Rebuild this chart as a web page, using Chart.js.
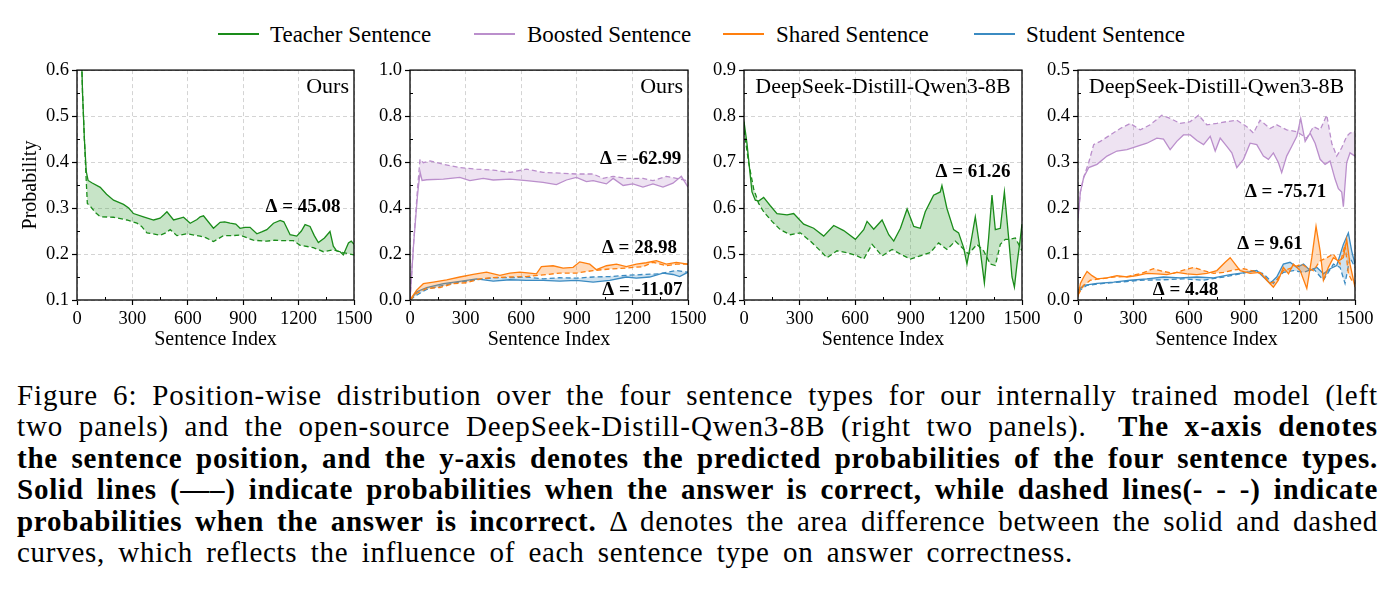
<!DOCTYPE html>
<html>
<head>
<meta charset="utf-8">
<script src="https://cdn.jsdelivr.net/npm/chart.js@4.4.1/dist/chart.umd.min.js"></script>
<style>
  body { margin: 0; background: #fff; width: 1398px; height: 593px; overflow: hidden; position: relative; font-family: "Liberation Serif", serif; }
  canvas { position: absolute; top: 56px; }
  .legLine { position: absolute; top: 33px; width: 41px; height: 2px; }
  .legText { position: absolute; top: 21px; font-size: 23px; line-height: 28px; white-space: nowrap; }
  #caption { position: absolute; left: 17px; top: 380px; width: 1362px; font-size: 29px; line-height: 31.4px; color: #000; }
  #caption div { white-space: nowrap; }
  #caption span.ln { display: inline-block; }
  b { font-weight: bold; }
</style>
</head>
<body>

<div class="legLine" style="left:218px;background:#1a8c1a"></div><div class="legText" style="left:270px">Teacher Sentence</div>
<div class="legLine" style="left:474px;background:#bb8fcc"></div><div class="legText" style="left:527px">Boosted Sentence</div>
<div class="legLine" style="left:723px;background:#ff7f0e"></div><div class="legText" style="left:776px">Shared Sentence</div>
<div class="legLine" style="left:974px;background:#3b8bc2"></div><div class="legText" style="left:1026px">Student Sentence</div>

<canvas id="c1" width="380" height="300" style="left:0px"></canvas>
<canvas id="c2" width="354" height="300" style="left:360px"></canvas>
<canvas id="c3" width="354" height="300" style="left:694px"></canvas>
<canvas id="c4" width="370" height="300" style="left:1028px"></canvas>

<div id="caption">
  <div><span class="ln" data-w="1361">Figure 6: Position-wise distribution over the four sentence types for our internally trained model (left</span></div>
  <div><span class="ln" data-w="1361">two panels) and the open-source DeepSeek-Distill-Qwen3-8B (right two panels). &nbsp;<b>The x-axis denotes</b></span></div>
  <div><span class="ln" data-w="1361"><b>the sentence position, and the y-axis denotes the predicted probabilities of the four sentence types.</b></span></div>
  <div><span class="ln" data-w="1361"><b>Solid lines (—–) indicate probabilities when the answer is correct, while dashed lines(- - -) indicate</b></span></div>
  <div><span class="ln" data-w="1361"><b>probabilities when the answer is incorrect.</b> Δ denotes the area difference between the solid and dashed</span></div>
  <div><span class="ln" data-w="1056">curves, which reflects the influence of each sentence type on answer correctness.</span></div>
</div>

<script>
// ---- data: [sentence index, probability] ----
// panel 1: ours, teacher sentence
const oursTeacherCorrect = [[20,0.70],[30,0.55],[40,0.45],[50,0.38],[60,0.36],[80,0.355],[126,0.345],[160,0.33],[198,0.317],[252,0.308],[280,0.30],[306,0.288],[360,0.281],[415,0.274],[450,0.278],[469,0.285],[487,0.292],[523,0.274],[560,0.278],[577,0.28],[613,0.267],[650,0.275],[667,0.281],[685,0.283],[739,0.256],[775,0.269],[800,0.27],[829,0.267],[860,0.265],[883,0.256],[910,0.258],[937,0.258],[974,0.244],[1000,0.248],[1028,0.253],[1064,0.267],[1100,0.273],[1120,0.27],[1154,0.242],[1190,0.239],[1215,0.25],[1235,0.264],[1262,0.26],[1285,0.24],[1307,0.225],[1340,0.235],[1370,0.249],[1388,0.217],[1406,0.207],[1425,0.205],[1442,0.198],[1470,0.224],[1485,0.228],[1500,0.221]];
const oursTeacherWrong = [[20,0.70],[30,0.55],[40,0.45],[50,0.36],[56,0.31],[70,0.305],[100,0.29],[126,0.281],[198,0.28],[270,0.274],[325,0.267],[350,0.26],[379,0.246],[451,0.241],[480,0.246],[505,0.253],[541,0.24],[595,0.244],[667,0.239],[700,0.235],[739,0.227],[793,0.24],[840,0.24],[883,0.241],[955,0.23],[1028,0.228],[1070,0.23],[1118,0.229],[1172,0.229],[1208,0.219],[1280,0.214],[1334,0.205],[1388,0.209],[1442,0.203],[1500,0.198]];

// panel 2: ours, boosted / shared / student
const oursBoostedCorrect = [[0,0],[20,0.25],[40,0.45],[48,0.512],[55,0.555],[65,0.52],[90,0.523],[180,0.526],[269,0.533],[323,0.519],[395,0.529],[449,0.522],[539,0.526],[629,0.519],[718,0.512],[790,0.502],[844,0.522],[898,0.533],[952,0.515],[988,0.519],[1060,0.505],[1096,0.529],[1150,0.498],[1203,0.505],[1257,0.491],[1311,0.505],[1365,0.491],[1419,0.508],[1464,0.538],[1500,0.491]];
const oursBoostedWrong = [[0,0],[20,0.25],[40,0.48],[54,0.612],[72,0.597],[108,0.605],[180,0.59],[269,0.576],[359,0.569],[449,0.565],[539,0.555],[629,0.569],[718,0.555],[808,0.552],[898,0.548],[988,0.548],[1042,0.529],[1096,0.538],[1167,0.529],[1257,0.529],[1311,0.519],[1383,0.538],[1437,0.529],[1500,0.519]];
const oursSharedCorrect = [[0,0],[36,0.043],[72,0.071],[126,0.078],[198,0.088],[269,0.1],[341,0.111],[413,0.121],[485,0.107],[539,0.117],[593,0.121],[647,0.117],[682,0.114],[709,0.145],[772,0.149],[826,0.139],[880,0.142],[916,0.166],[970,0.156],[1006,0.132],[1060,0.149],[1114,0.156],[1167,0.145],[1221,0.156],[1275,0.162],[1329,0.171],[1383,0.156],[1437,0.164],[1500,0.156]];
const oursSharedWrong = [[0,0],[36,0.029],[90,0.05],[162,0.054],[233,0.071],[305,0.075],[377,0.092],[449,0.097],[539,0.1],[629,0.102],[718,0.109],[808,0.117],[898,0.117],[988,0.128],[1078,0.135],[1167,0.139],[1257,0.145],[1311,0.164],[1383,0.149],[1437,0.156],[1500,0.156]];
const oursStudentCorrect = [[0,0],[36,0.036],[90,0.054],[180,0.071],[269,0.081],[359,0.092],[449,0.082],[539,0.088],[629,0.085],[718,0.085],[808,0.082],[898,0.085],[988,0.078],[1078,0.085],[1167,0.1],[1221,0.095],[1293,0.1],[1365,0.117],[1419,0.111],[1455,0.102],[1500,0.121]];
const oursStudentWrong = [[0,0],[36,0.021],[90,0.046],[180,0.064],[269,0.078],[359,0.088],[449,0.097],[539,0.097],[629,0.1],[718,0.092],[808,0.097],[898,0.095],[988,0.1],[1078,0.102],[1167,0.107],[1257,0.111],[1347,0.114],[1437,0.128],[1500,0.121]];

// panel 3: deepseek, teacher sentence
const dsTeacherCorrect = [[0,0.788],[16,0.741],[34,0.67],[43,0.635],[61,0.617],[79,0.615],[106,0.623],[142,0.605],[178,0.588],[232,0.585],[268,0.588],[322,0.565],[376,0.556],[430,0.539],[484,0.562],[538,0.551],[601,0.532],[646,0.553],[664,0.571],[700,0.554],[745,0.574],[781,0.542],[808,0.528],[844,0.556],[880,0.598],[916,0.56],[951,0.556],[978,0.592],[1023,0.628],[1059,0.635],[1068,0.649],[1095,0.599],[1131,0.553],[1158,0.546],[1185,0.514],[1203,0.478],[1230,0.539],[1248,0.581],[1275,0.507],[1297,0.437],[1320,0.535],[1338,0.628],[1356,0.553],[1383,0.556],[1405,0.635],[1428,0.535],[1446,0.45],[1459,0.428],[1473,0.478],[1487,0.521],[1500,0.565]];
const dsTeacherWrong = [[0,0.77],[25,0.699],[52,0.642],[79,0.61],[106,0.592],[151,0.571],[196,0.553],[250,0.542],[304,0.546],[358,0.528],[412,0.507],[448,0.492],[502,0.507],[556,0.503],[610,0.496],[646,0.489],[691,0.521],[745,0.496],[799,0.51],[844,0.5],[898,0.489],[951,0.496],[1005,0.503],[1050,0.524],[1095,0.51],[1140,0.528],[1176,0.514],[1212,0.5],[1257,0.521],[1293,0.507],[1329,0.478],[1356,0.475],[1383,0.521],[1410,0.532],[1437,0.532],[1464,0.535],[1500,0.507]];

// panel 4: deepseek, boosted / shared / student
const dsBoostedCorrect = [[0,0.178],[13,0.235],[31,0.267],[58,0.288],[103,0.295],[157,0.313],[211,0.324],[265,0.327],[319,0.334],[373,0.341],[427,0.352],[463,0.35],[499,0.327],[535,0.345],[571,0.359],[608,0.359],[644,0.347],[680,0.338],[716,0.356],[743,0.324],[770,0.352],[806,0.334],[833,0.32],[860,0.288],[896,0.306],[932,0.341],[968,0.338],[1004,0.313],[1031,0.306],[1058,0.32],[1085,0.299],[1103,0.277],[1130,0.313],[1157,0.334],[1185,0.356],[1206,0.395],[1230,0.345],[1257,0.363],[1284,0.341],[1311,0.306],[1338,0.295],[1365,0.302],[1392,0.263],[1410,0.242],[1428,0.235],[1437,0.203],[1455,0.299],[1473,0.32],[1500,0.313]];
const dsBoostedWrong = [[0,0.178],[13,0.235],[31,0.267],[58,0.299],[85,0.338],[121,0.345],[175,0.359],[229,0.373],[283,0.384],[337,0.37],[391,0.381],[454,0.402],[499,0.395],[553,0.384],[608,0.388],[653,0.402],[698,0.381],[752,0.384],[806,0.388],[860,0.391],[914,0.377],[950,0.363],[986,0.391],[1040,0.373],[1076,0.381],[1130,0.37],[1185,0.366],[1239,0.352],[1275,0.377],[1311,0.37],[1347,0.402],[1374,0.341],[1401,0.313],[1428,0.331],[1455,0.356],[1473,0.363],[1500,0.366]];
const dsSharedCorrect = [[0,0.007],[13,0.036],[31,0.05],[49,0.062],[76,0.053],[103,0.046],[157,0.048],[211,0.053],[265,0.05],[319,0.053],[373,0.058],[427,0.057],[481,0.055],[535,0.06],[590,0.057],[644,0.055],[698,0.058],[752,0.064],[797,0.082],[824,0.092],[851,0.078],[878,0.064],[932,0.058],[986,0.06],[1022,0.043],[1058,0.028],[1085,0.043],[1112,0.071],[1140,0.057],[1166,0.078],[1203,0.064],[1239,0.025],[1266,0.092],[1289,0.16],[1311,0.107],[1329,0.043],[1356,0.071],[1383,0.092],[1410,0.085],[1437,0.092],[1455,0.132],[1473,0.078],[1500,0.028]];
const dsSharedWrong = [[0,0.011],[31,0.032],[67,0.043],[121,0.046],[193,0.05],[265,0.051],[337,0.057],[409,0.068],[463,0.062],[517,0.058],[571,0.065],[626,0.071],[680,0.064],[734,0.058],[788,0.06],[842,0.065],[896,0.068],[950,0.063],[1004,0.055],[1040,0.036],[1076,0.043],[1112,0.064],[1166,0.071],[1212,0.078],[1239,0.071],[1275,0.064],[1311,0.085],[1347,0.092],[1383,0.1],[1419,0.078],[1446,0.121],[1464,0.057],[1482,0.043],[1500,0.036]];
const dsStudentCorrect = [[0,0.021],[31,0.032],[103,0.036],[193,0.039],[283,0.043],[373,0.046],[463,0.05],[553,0.048],[644,0.05],[734,0.048],[824,0.055],[914,0.06],[968,0.064],[1004,0.05],[1040,0.036],[1076,0.05],[1112,0.078],[1148,0.082],[1185,0.071],[1221,0.078],[1257,0.064],[1293,0.071],[1329,0.057],[1365,0.068],[1401,0.075],[1437,0.121],[1464,0.146],[1482,0.107],[1500,0.078]];
const dsStudentWrong = [[0,0.018],[49,0.032],[139,0.036],[229,0.039],[337,0.043],[463,0.044],[571,0.046],[680,0.043],[788,0.05],[878,0.057],[950,0.064],[1004,0.057],[1058,0.036],[1112,0.06],[1166,0.064],[1221,0.06],[1275,0.068],[1329,0.043],[1383,0.078],[1419,0.071],[1446,0.036],[1473,0.092],[1500,0.071]];

// delta annotations (data coordinates)
const notes1 = [{x: 1224, y: 0.303, t: 'Δ = 45.08'}];
const notes2 = [{x: 1244, y: 0.611, t: 'Δ = -62.99'}, {x: 1238, y: 0.226, t: 'Δ = 28.98'}, {x: 1254, y: 0.043, t: 'Δ = -11.07'}];
const notes3 = [{x: 1236, y: 0.678, t: 'Δ = 61.26'}];
const notes4 = [{x: 1124, y: 0.235, t: 'Δ = -75.71'}, {x: 1040, y: 0.122, t: 'Δ = 9.61'}, {x: 582, y: 0.021, t: 'Δ = 4.48'}];

const GREEN = '#1a8c1a', PURPLE = '#bb8fcc', ORANGE = '#ff7f0e', BLUE = '#3b8bc2';
const FILLS = {};
FILLS[GREEN] = 'rgba(40,150,40,0.26)';
FILLS[PURPLE] = 'rgba(187,143,204,0.25)';
FILLS[ORANGE] = 'rgba(255,127,14,0.28)';
FILLS[BLUE] = 'rgba(59,139,194,0.25)';

Chart.defaults.font.family = '"Liberation Serif", serif';
Chart.defaults.color = '#000';

function pts(arr) { return arr.map(p => ({x: p[0], y: p[1]})); }

// solid + dashed pair, area between them shaded
function pair(correct, wrong, color, idx) {
  return [
    {data: pts(correct), borderColor: color, borderWidth: 1.3, pointRadius: 0,
     fill: {target: idx + 1, above: FILLS[color], below: FILLS[color]}},
    {data: pts(wrong), borderColor: color, borderWidth: 1.3, pointRadius: 0,
     borderDash: [5, 3], fill: false}
  ];
}

const deco = {
  id: 'deco',
  afterDatasetsDraw(chart, args, o) {
    const {ctx, chartArea: a, scales: {x, y}} = chart;
    ctx.save();
    ctx.strokeStyle = '#000';
    ctx.lineWidth = 1;
    ctx.beginPath();
    // minor ticks, inward
    for (let v = 150; v < 1500; v += 300) {
      const px = Math.round(x.getPixelForValue(v)) + 0.5;
      ctx.moveTo(px, a.bottom); ctx.lineTo(px, a.bottom - 3);
    }
    for (let v = o.ymin + o.ystep / 2; v < o.ymax; v += o.ystep) {
      const py = Math.round(y.getPixelForValue(v)) + 0.5;
      ctx.moveTo(a.left, py); ctx.lineTo(a.left + 3, py);
    }
    ctx.stroke();
    ctx.lineWidth = 1.3;
    ctx.strokeRect(a.left, a.top, a.right - a.left, a.bottom - a.top);

    ctx.fillStyle = '#000';
    ctx.textBaseline = 'middle';
    ctx.font = '22px "Liberation Serif"';
    if (o.label === 'Ours') {
      ctx.textAlign = 'right';
      ctx.fillText(o.label, a.right - 5, a.top + 17);
    } else {
      ctx.textAlign = 'center';
      ctx.fillText(o.label, (a.left + a.right) / 2, a.top + 17);
    }
    ctx.font = 'bold 19px "Liberation Serif"';
    ctx.textAlign = 'center';
    o.notes.forEach(n => ctx.fillText(n.t, x.getPixelForValue(n.x), y.getPixelForValue(n.y)));
    ctx.restore();
  }
};

function makePanel(id, datasets, ymin, ymax, ystep, label, notes, yAxisW, rightPad, showYTitle) {
  new Chart(document.getElementById(id), {
    type: 'line',
    data: {datasets: datasets},
    options: {
      responsive: false,
      animation: false,
      layout: {padding: {top: 10, right: rightPad, left: 0, bottom: 0}},
      plugins: {legend: {display: false}, tooltip: {enabled: false}, deco: {label, notes, ymin, ymax, ystep}},
      scales: {
        x: {
          type: 'linear', min: 0, max: 1500,
          ticks: {stepSize: 300, padding: 3, font: {size: 18.5}, maxRotation: 0, callback: v => String(v)},
          grid: {color: '#cfcfcf', lineWidth: 0.9, borderDash: [4, 3], tickColor: '#000', tickLength: 5, tickWidth: 1.2, tickBorderDash: []},
          border: {display: false, dash: [4, 3]},
          title: {display: true, text: 'Sentence Index', font: {size: 20}, padding: {top: 0, bottom: 4}},
          afterFit: s => { s.height = 56; }
        },
        y: {
          min: ymin, max: ymax,
          ticks: {stepSize: ystep, padding: 3, font: {size: 18.5}, callback: v => v.toFixed(1)},
          grid: {color: '#cfcfcf', lineWidth: 0.9, borderDash: [4, 3], tickColor: '#000', tickLength: 5, tickWidth: 1.2, tickBorderDash: []},
          border: {display: false, dash: [4, 3]},
          title: {display: showYTitle, text: 'Probability', font: {size: 20}, padding: {top: 19, bottom: 0}},
          afterFit: s => { s.width = yAxisW; }
        }
      }
    },
    plugins: [deco]
  });
}

makePanel('c1', pair(oursTeacherCorrect, oursTeacherWrong, GREEN, 0), 0.1, 0.6, 0.1, 'Ours', notes1, 77, 26, true);
makePanel('c2', [
  ...pair(oursBoostedCorrect, oursBoostedWrong, PURPLE, 0),
  ...pair(oursSharedCorrect, oursSharedWrong, ORANGE, 2),
  ...pair(oursStudentCorrect, oursStudentWrong, BLUE, 4)
], 0, 1.0, 0.2, 'Ours', notes2, 50, 26, false);
makePanel('c3', pair(dsTeacherCorrect, dsTeacherWrong, GREEN, 0), 0.4, 0.9, 0.1, 'DeepSeek-Distill-Qwen3-8B', notes3, 50, 26, false);
makePanel('c4', [
  ...pair(dsBoostedCorrect, dsBoostedWrong, PURPLE, 0),
  ...pair(dsSharedCorrect, dsSharedWrong, ORANGE, 2),
  ...pair(dsStudentCorrect, dsStudentWrong, BLUE, 4)
], 0, 0.5, 0.1, 'DeepSeek-Distill-Qwen3-8B', notes4, 50, 43, false);

// stretch each caption line to the width it has in the figure:
// part of the slack goes between letters, the rest between words
document.querySelectorAll('#caption span.ln').forEach(s => {
  const target = +s.dataset.w;
  const text = s.textContent;
  const n = text.length;
  const spaces = (text.match(/[ \u00a0]/g) || []).length;
  const slack = target - s.getBoundingClientRect().width;
  s.style.letterSpacing = (slack * 0.5 / n) + 'px';
  const rest = target - s.getBoundingClientRect().width;
  s.style.wordSpacing = (rest / spaces) + 'px';
});
</script>
</body>
</html>
